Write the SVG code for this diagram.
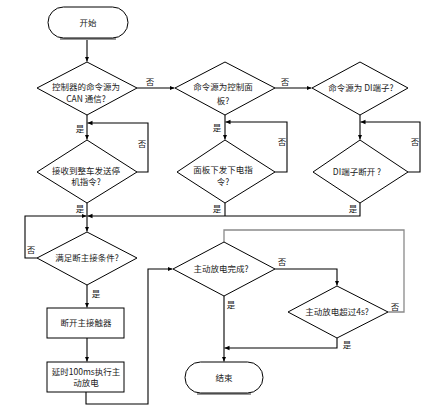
<svg xmlns="http://www.w3.org/2000/svg" width="437" height="414" viewBox="0 0 437 414">
<style>
.s{fill:#fff;stroke:#000;stroke-width:1}
.c{fill:none;stroke:#000;stroke-width:1.1}
.g{fill:none;stroke:#8a8a8a;stroke-width:1.3}
text{font-family:"Noto Sans CJK SC","Noto Sans",sans-serif;font-size:8.5px;fill:#222;text-anchor:middle}
.sh{fill:none;stroke:#999;stroke-width:2}
</style>
<defs>
<marker id="a" markerWidth="6" markerHeight="6" refX="5" refY="3" orient="auto" markerUnits="userSpaceOnUse">
<path d="M0,0.8 L5,3 L0,5.2 Z" fill="#000"/>
</marker>
</defs>
<rect width="437" height="414" fill="#fff"/>
<g id="connectors">
<path class="c" d="M87,38 V61.5" marker-end="url(#a)"/>
<path class="c" d="M137,88 H174.5" marker-end="url(#a)"/>
<path class="c" d="M275,88 H311.5" marker-end="url(#a)"/>
<path class="c" d="M87,115 V139.5" marker-end="url(#a)"/>
<path class="c" d="M137,172 H148 V123 H87.5" marker-end="url(#a)"/>
<path class="c" d="M225,115 V139.5" marker-end="url(#a)"/>
<path class="c" d="M275,172 H287 V122 H225.5" marker-end="url(#a)"/>
<path class="c" d="M360,115 V139.5" marker-end="url(#a)"/>
<path class="c" d="M408,172 H420 V122 H360.5" marker-end="url(#a)"/>
<path class="c" d="M87,203 V231.5" marker-end="url(#a)"/>
<path class="c" d="M225,203 V216"/>
<path class="c" d="M360,203 V216 H87.5" marker-end="url(#a)"/>
<path class="c" d="M37,258 H25 V216 H86.5" marker-end="url(#a)"/>
<path class="c" d="M87,285 V307.5" marker-end="url(#a)"/>
<path class="c" d="M87,338 V361.5" marker-end="url(#a)"/>
<path class="c" d="M86,392 V404 H148 V269 H172.5" marker-end="url(#a)"/>
<path class="c" d="M275,269 H337 V285.5" marker-end="url(#a)"/>
<path class="g" d="M388,312 H404 V230 H224 V242"/>
<path class="c" d="M224,296 V361.5" marker-end="url(#a)"/>
<path class="c" d="M337,338 V348 H224.5" marker-end="url(#a)"/>
<text x="150" y="85">否</text>
<text x="285" y="85">否</text>
<text x="80" y="132">是</text>
<text x="142" y="147">否</text>
<text x="217" y="131">是</text>
<text x="282" y="145">否</text>
<text x="415" y="145">否</text>
<text x="80" y="212">是</text>
<text x="217" y="212">是</text>
<text x="353" y="212">是</text>
<text x="31" y="253">否</text>
<text x="96" y="297">是</text>
<text x="282" y="265">否</text>
<text x="395" y="310">否</text>
<text x="231" y="308">是</text>
<text x="347" y="348">是</text>
</g>
<g id="start">
<path class="sh" d="M60,39 H116"/>
<rect class="s" x="48" y="7" width="80" height="31" rx="15.5"/>
<text x="88" y="26">开始</text>
</g>
<g id="d1">
<polygon class="s" points="87,62 137,88 87,115 37,88"/>
<text x="86" y="90">控制器的命令源为</text>
<text x="86" y="102">CAN 通信?</text>
</g>
<g id="d2">
<polygon class="s" points="225,62 275,88 225,115 175,88"/>
<text x="223" y="90">命令源为控制面</text>
<text x="223" y="104">板?</text>
</g>
<g id="d3">
<polygon class="s" points="360,62 408,88 360,115 312,88"/>
<text x="361" y="91">命令源为 DI端子?</text>
</g>
<g id="d1b">
<polygon class="s" points="87,140 137,172 87,203 37,172"/>
<text x="86" y="174">接收到整车发送停</text>
<text x="86" y="185">机指令?</text>
</g>
<g id="d2b">
<polygon class="s" points="225,140 275,172 225,203 177,172"/>
<text x="223" y="173">面板下发下电指</text>
<text x="223" y="185">令?</text>
</g>
<g id="d3b">
<polygon class="s" points="360,140 408,172 360,203 313,172"/>
<text x="357" y="175">DI端子断开 ?</text>
</g>
<g id="d4">
<polygon class="s" points="87,232 137,258 87,285 37,258"/>
<text x="87" y="261">满足断主接条件?</text>
</g>
<g id="r1">
<rect class="s" x="47" y="308" width="77" height="30"/>
<text x="86" y="326">断开主接触器</text>
</g>
<g id="r2">
<rect class="s" x="47" y="362" width="77" height="30"/>
<text x="86" y="375">延时100ms执行主</text>
<text x="86" y="386">动放电</text>
</g>
<g id="d5">
<polygon class="s" points="224,242 275,269 224,296 173,269"/>
<text x="221" y="272">主动放电完成?</text>
</g>
<g id="d6">
<polygon class="s" points="337,286 388,312 337,338 288,312"/>
<text x="337" y="315">主动放电超过4s?</text>
</g>
<g id="end">
<path class="sh" d="M197,394 H251"/>
<rect class="s" x="185" y="362" width="78" height="31" rx="15.5"/>
<text x="224" y="381">结束</text>
</g>
</svg>
